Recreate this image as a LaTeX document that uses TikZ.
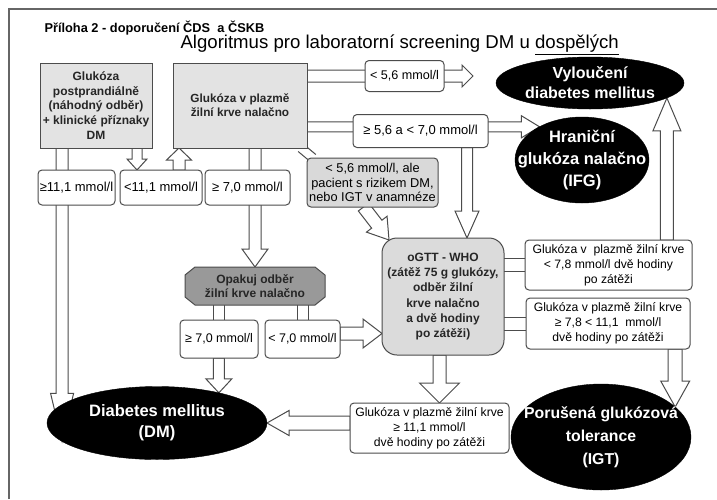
\documentclass[tikz,border=0pt]{standalone}
\usepackage{fontspec}
\setmainfont{Liberation Sans}
\usetikzlibrary{calc,shapes.geometric}
\pgfdeclarelayer{back}\pgfdeclarelayer{arrows}\pgfdeclarelayer{shapes}
\pgfsetlayers{back,arrows,shapes,main}
\definecolor{boxc}{gray}{0.3}
\definecolor{arrc}{gray}{0.3}
\definecolor{fillA}{gray}{0.89}
\definecolor{fillR}{gray}{0.85}
\definecolor{fillO}{gray}{0.86}
\definecolor{fillP}{gray}{0.6}
\definecolor{framec}{gray}{0.4}
\newcommand\fs[2]{\fontsize{#1}{#2}\selectfont}
\newcommand\harrow[6][]{%
  \path (#2) coordinate (hS) (#3) coordinate (hE);
  \coordinate (hB) at ($(hE)!#6pt!(hS)$);
  \draw[harr,#1] ($(hS)!#4pt!90:(hE)$) -- ($(hB)!#4pt!90:(hE)$) -- ($(hB)!#5pt!90:(hE)$) -- (hE)
     -- ($(hB)!#5pt!-90:(hE)$) -- ($(hB)!#4pt!-90:(hE)$) -- ($(hS)!#4pt!-90:(hE)$) -- cycle;}
\newcommand\hband[3]{%
  \path (#1) coordinate (bS) (#2) coordinate (bE);
  \draw[bandl] ($(bS)!#3pt!90:(bE)$) -- ($(bE)!#3pt!-90:(bS)$);
  \draw[bandl] ($(bS)!#3pt!-90:(bE)$) -- ($(bE)!#3pt!90:(bS)$);}
\begin{document}
\begin{tikzpicture}[x=1pt,y=-1pt,
  gbox/.style={draw=boxc, fill=fillA, line width=1, inner sep=1.5, outer sep=0, align=center, text=black!85, font=\bfseries\fs{12}{14.7}},
  sbox/.style={draw=boxc, fill=white, rounded corners=4, line width=1, inner sep=1, outer sep=0, align=center, font=\fs{13}{14}},
  rbox/.style={sbox, font=\fs{12.2}{15.2}},
  ell/.style={ellipse, fill=black, draw=black, inner sep=0, outer sep=0},
  etext/.style={text=white, align=center, inner sep=0},
  harr/.style={draw=arrc, fill=white, line width=1, line join=miter},
  bandl/.style={draw=arrc, line width=1}]
\useasboundingbox (0,0) rectangle (717,499);
\begin{pgfonlayer}{back}
\fill[white] (0,0) rectangle (717,499);
\end{pgfonlayer}
\draw[framec, line width=1.5] (9,499) -- (9,9) -- (717,9);

\node[anchor=west, font=\bfseries\fs{12.8}{15}] (t1) at (41,28) {Příloha 2 - doporučení ČDS\ \ a ČSKB};
\node[anchor=west, font=\fs{18.6}{20}] (t2) at (177,45) {Algoritmus pro laboratorní screening DM u \underline{dospělých}};

\node[gbox, minimum width=112, minimum height=85] (A) at (96,105.5) {Glukóza\\postprandiálně\\(náhodný odběr)\\+ klinické příznaky\\DM};
\node[gbox, minimum width=134, minimum height=85, font=\bfseries\fs{11.8}{13.8}] (B) at (240,105.5) {Glukóza v plazmě\\žilní krve nalačno};

\node[sbox, minimum width=77, minimum height=35] (g111) at (76.5,187.5) {≥11,1 mmol/l};
\node[sbox, minimum width=82, minimum height=35] (l111) at (161,187.5) {<11,1 mmol/l};
\node[sbox, minimum width=85, minimum height=35] (g70) at (247.5,187.5) {≥ 7,0 mmol/l};
\node[sbox, minimum width=79, minimum height=31, font=\fs{12.6}{14}] (l56) at (404.5,76) {< 5,6 mmol/l};
\node[sbox, minimum width=135, minimum height=33] (g56) at (420.5,131) {≥ 5,6 a < 7,0 mmol/l};
\node[sbox, fill=fillR, minimum width=131, minimum height=49, font=\fs{12.8}{14.8}] (risk) at (372.5,182.5) {< 5,6 mmol/l, ale\\pacient s rizikem DM,\\nebo IGT v anamnéze};

\node[gbox, fill=fillO, rounded corners=15, minimum width=122, minimum height=117, font=\bfseries\fs{12}{15.2}] (ogtt) at (443,296.5) {oGTT - WHO\\(zátěž 75 g glukózy,\\odběr žilní\\krve nalačno\\a dvě hodiny\\po zátěži)};

\node[rbox, minimum width=167, minimum height=50] (r78) at (608.5,265) {Glukóza v\ \ plazmě žilní krve\\< 7,8 mmol/l dvě hodiny\\po zátěži};
\node[rbox, minimum width=164, minimum height=51] (r78b) at (608,323.5) {Glukóza v plazmě žilní krve\\≥ 7,8 < 11,1\ \ mmol/l\\dvě hodiny po zátěži};
\node[rbox, minimum width=159, minimum height=50] (r111) at (429.5,428) {Glukóza v plazmě žilní krve\\≥ 11,1 mmol/l\\dvě hodiny po zátěži};

\node[inner sep=0, outer sep=0, minimum width=140, minimum height=38, align=center, text=black!85, font=\bfseries\fs{12}{14.5}] (opak) at (255,286) {Opakuj odběr\\žilní krve nalačno};
\node[sbox, minimum width=78, minimum height=38, font=\fs{12.5}{14}] (o70g) at (219,339) {≥ 7,0 mmol/l};
\node[sbox, minimum width=75, minimum height=38, font=\fs{12.5}{14}] (o70l) at (302.5,339) {< 7,0 mmol/l};

\node[ell, minimum width=188, minimum height=52] (vyl) at (590,83) {};
\node[etext, font=\bfseries\fs{16}{20}] (vylt) at (vyl.center) {Vyloučení\\diabetes mellitus};
\node[ell, minimum width=134, minimum height=86] (ifg) at (582,160) {};
\node[etext, font=\bfseries\fs{16.5}{22}] (ifgt) at (ifg.center) {Hraniční\\glukóza nalačno\\(IFG)};
\node[ell, minimum width=220, minimum height=73] (dm) at (157,423) {};
\node[etext, font=\bfseries\fs{16.5}{21}] (dmt) at (dm.center) {Diabetes mellitus\\(DM)};
\node[ell, minimum width=180, minimum height=106] (igt) at (601,437) {};
\node[etext, font=\bfseries\fs{15.8}{23}] (igtt) at (igt.center) {Porušená glukózová\\tolerance\\(IGT)};

\begin{pgfonlayer}{shapes}
\draw[boxc, fill=fillP, line width=1] ($(opak.north west)+(0,8)$) -- ($(opak.north west)+(10,0)$) -- ($(opak.north east)+(-10,0)$) -- ($(opak.north east)+(0,8)$)
  -- ($(opak.south east)+(0,-8)$) -- ($(opak.south east)+(-10,0)$) -- ($(opak.south west)+(10,0)$) -- ($(opak.south west)+(0,-8)$) -- cycle;
\end{pgfonlayer}

\begin{pgfonlayer}{arrows}
\coordinate (tv) at (vyl.-11);
\coordinate (tifg) at (ifg.142);
\coordinate (tdmA) at (dm.191);
\coordinate (tdmO) at (dm.26);
\coordinate (tigt) at (igt.22);
\coordinate (p1) at ($(l111.north west)+(17,0)$);
\coordinate (p2) at ($(l111.north east)+(-23,0)$);
\coordinate (p3) at ($(g56.south east)+(-21,0)$);
\coordinate (p4) at ($(o70l.east)+(0,-5.5)$);
\coordinate (p5) at ($(r111.north)+(10,0)$);
\coordinate (p6) at ($(l56.east)+(29,0)$);
\harrow{tdmA |- A.south}{tdmA}{6}{11.5}{48}
\harrow{p1 |- A.south}{p1}{5}{10}{11}
\harrow{p2}{p2 |- B.south}{6}{12.5}{12}
\harrow{opak.north |- B.south}{opak.north}{6}{13}{18}
\harrow{B.east |- l56.west}{p6}{6}{11}{11}
\harrow{B.east |- tifg}{tifg}{5}{11}{18}
\harrow{p3}{p3 |- ogtt.north}{5.5}{12}{27}
\hband{$(B.south east)+(-6,0)$}{$(risk.north west)+(6,0)$}{4.5}
\harrow{$(risk.south)+(-9,0)$}{$(ogtt.north west)+(7,2)$}{6.5}{13}{20}
\hband{ogtt.east |- r78.west}{r78.west}{6.5}
\hband{ogtt.east |- r78b.west}{r78b.west}{6.5}
\harrow{tv |- r78.north}{tv}{6.5}{14}{33}
\harrow{tigt |- r78b.south}{tigt}{7}{14.5}{26}
\hband{opak.south -| o70g.north}{o70g.north}{5.5}
\hband{opak.south -| o70l.north}{o70l.north}{5.5}
\harrow{tdmO |- o70g.south}{tdmO}{5.5}{13}{14}
\harrow{p4}{p4 -| ogtt.west}{6.5}{14.5}{19}
\harrow{p5 |- ogtt.south}{p5}{6.5}{20}{20}
\harrow{r111.west |- dm.east}{dm.east}{7}{12.5}{22}
\end{pgfonlayer}
\end{tikzpicture}
\end{document}
